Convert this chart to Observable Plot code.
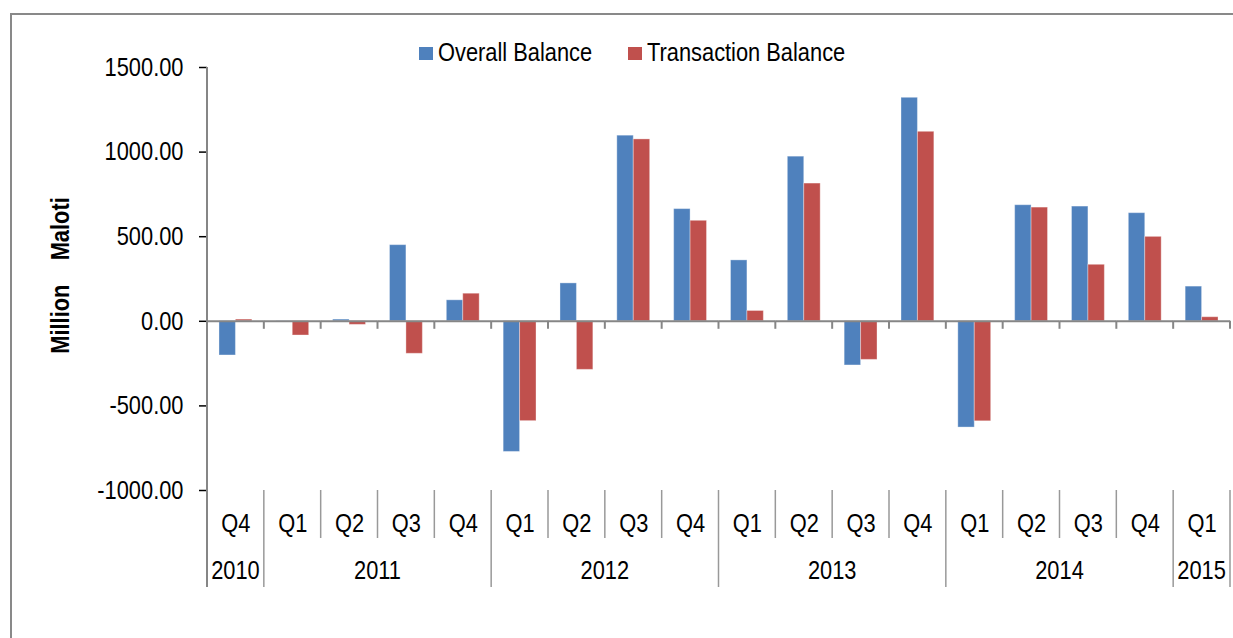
<!DOCTYPE html>
<html>
<head>
<meta charset="utf-8">
<script src="https://cdn.jsdelivr.net/npm/d3@7"></script>
<script src="https://cdn.jsdelivr.net/npm/@observablehq/plot@0.6"></script>
<style>
  html, body { margin: 0; padding: 0; background: #fff; overflow: hidden; }
  body { width: 1233px; height: 638px; position: relative; font-family: "Liberation Sans", Arial, sans-serif; }
  #frame { position: absolute; left: 10px; top: 13px; width: 1300px; height: 700px; border: 2px solid #898989; box-sizing: border-box; }
  #chart { position: absolute; left: 0; top: 0; }
</style>
</head>
<body>
<div id="frame"></div>
<div id="chart"></div>
<script>
const quarters = ["Q4","Q1","Q2","Q3","Q4","Q1","Q2","Q3","Q4","Q1","Q2","Q3","Q4","Q1","Q2","Q3","Q4","Q1"];
const years = ["2010","2011","2011","2011","2011","2012","2012","2012","2012","2013","2013","2013","2013","2014","2014","2014","2014","2015"];
const overallBalance = [-202, -5, 10, 450, 124, -772, 224, 1097, 663, 360, 973, -261, 1321, -628, 686, 678, 639, 205];
const transactionBalance = [10, -84, -21, -192, 163, -590, -287, 1075, 594, 61, 814, -228, 1120, -591, 672, 334, 499, 24];
const seriesNames = ["Overall Balance", "Transaction Balance"];
const seriesColors = ["#4F81BD", "#C0504D"];
const yTicks = [-1000, -500, 0, 500, 1000, 1500];

const keys = quarters.map((q, i) => `${years[i]} ${q}`);
const rows = [];
keys.forEach((k, i) => {
  rows.push({key: k, series: seriesNames[0], value: overallBalance[i]});
  rows.push({key: k, series: seriesNames[1], value: transactionBalance[i]});
});

const FONT = '"Liberation Sans", Arial, sans-serif';
const axisColor = "#868686";

const plot = Plot.plot({
  width: 1233,
  height: 638,
  marginTop: 67,
  marginBottom: 148,
  marginLeft: 207,
  marginRight: 3,
  style: {fontFamily: FONT, fontSize: "26px", color: "#000", background: "transparent", overflow: "visible"},
  fx: {domain: keys, paddingInner: 0, paddingOuter: 0, round: false, tickFormat: k => k.split(" ")[1], tickSize: 0, tickPadding: 23, label: null},
  x: {domain: seriesNames, paddingInner: 0, paddingOuter: 0.73, round: false, axis: null},
  y: {domain: [-1000, 1500], ticks: yTicks, tickFormat: d => d.toFixed(2), tickSize: 8, tickPadding: 16, label: null},
  color: {domain: seriesNames, range: seriesColors},
  marks: [
    Plot.barY(rows, {fx: "key", x: "series", y: "value", fill: "series", stroke: "#ffffff", strokeOpacity: 0.35, strokeWidth: 1}),
    Plot.ruleY([0], {stroke: axisColor, strokeWidth: 2})
  ]
});
document.getElementById("chart").appendChild(plot);

// axis decorations drawn from the plot's own scales
const svg = d3.select(plot);
svg.selectAll("[aria-label='y-axis tick']").attr("stroke", axisColor).attr("stroke-width", 1.5);
const fx = plot.scale("fx");
const y = plot.scale("y");
const bw = fx.bandwidth;
const y0 = y.apply(0), yTop = y.apply(1500), yBot = y.apply(-1000);
const lefts = keys.map(k => fx.apply(k));
const right = lefts[lefts.length - 1] + bw;
const bounds = [...lefts, right];
const g = svg.append("g");
g.append("line").attr("x1", lefts[0]).attr("x2", lefts[0]).attr("y1", yTop).attr("y2", yBot + 97)
  .attr("stroke", axisColor).attr("stroke-width", 2);
bounds.forEach(x => g.append("line").attr("x1", x).attr("x2", x).attr("y1", y0).attr("y2", y0 + 8)
  .attr("stroke", axisColor).attr("stroke-width", 2));
bounds.forEach((x, i) => {
  if (i === 0) return;
  const isYear = i === bounds.length - 1 || years[i] !== years[i - 1];
  g.append("line").attr("x1", x).attr("x2", x).attr("y1", yBot).attr("y2", yBot + (isYear ? 97 : 48))
    .attr("stroke", "#999").attr("stroke-width", 1.5);
});
const uniqYears = [...new Set(years)];
uniqYears.forEach(yr => {
  const idx = years.map((v, i) => v === yr ? i : -1).filter(i => i >= 0);
  const x1 = lefts[idx[0]], x2 = lefts[idx[idx.length - 1]] + bw;
  g.append("text").attr("x", (x1 + x2) / 2).attr("y", yBot + 89).attr("text-anchor", "middle")
    .attr("font-family", FONT).attr("font-size", 26).attr("fill", "#000").text(yr);
});
g.append("text")
  .attr("transform", `translate(69, ${(yTop + yBot) / 2 - 3}) rotate(-90)`)
  .attr("text-anchor", "middle").attr("font-family", FONT).attr("font-size", 26).attr("font-weight", "bold")
  .attr("fill", "#000").attr("xml:space", "preserve").style("white-space", "pre")
  .text("Million    Maloti");

// legend (inside the svg, top area)
const lg = svg.append("g");
const legendX = [419, 628];
seriesNames.forEach((s, i) => {
  lg.append("rect").attr("x", legendX[i]).attr("y", 47).attr("width", 14).attr("height", 13).attr("fill", seriesColors[i]);
  lg.append("text").attr("x", legendX[i] + 19).attr("y", 61).attr("text-anchor", "start").attr("font-family", FONT).attr("font-size", 26)
    .attr("fill", "#000").text(s);
});

// condensed look (the reference uses a narrow face): squeeze every text along its baseline around its anchor
svg.selectAll("text").each(function() {
  const el = this;
  const bb = el.getBBox();
  const anchor = getComputedStyle(el).textAnchor;
  const ax = anchor === "end" ? bb.x + bb.width : anchor === "middle" ? bb.x + bb.width / 2 : bb.x;
  const t = el.getAttribute("transform") || "";
  el.setAttribute("transform", `${t} translate(${ax},0) scale(0.84,1) translate(${-ax},0)`.trim());
});
</script>
</body>
</html>
